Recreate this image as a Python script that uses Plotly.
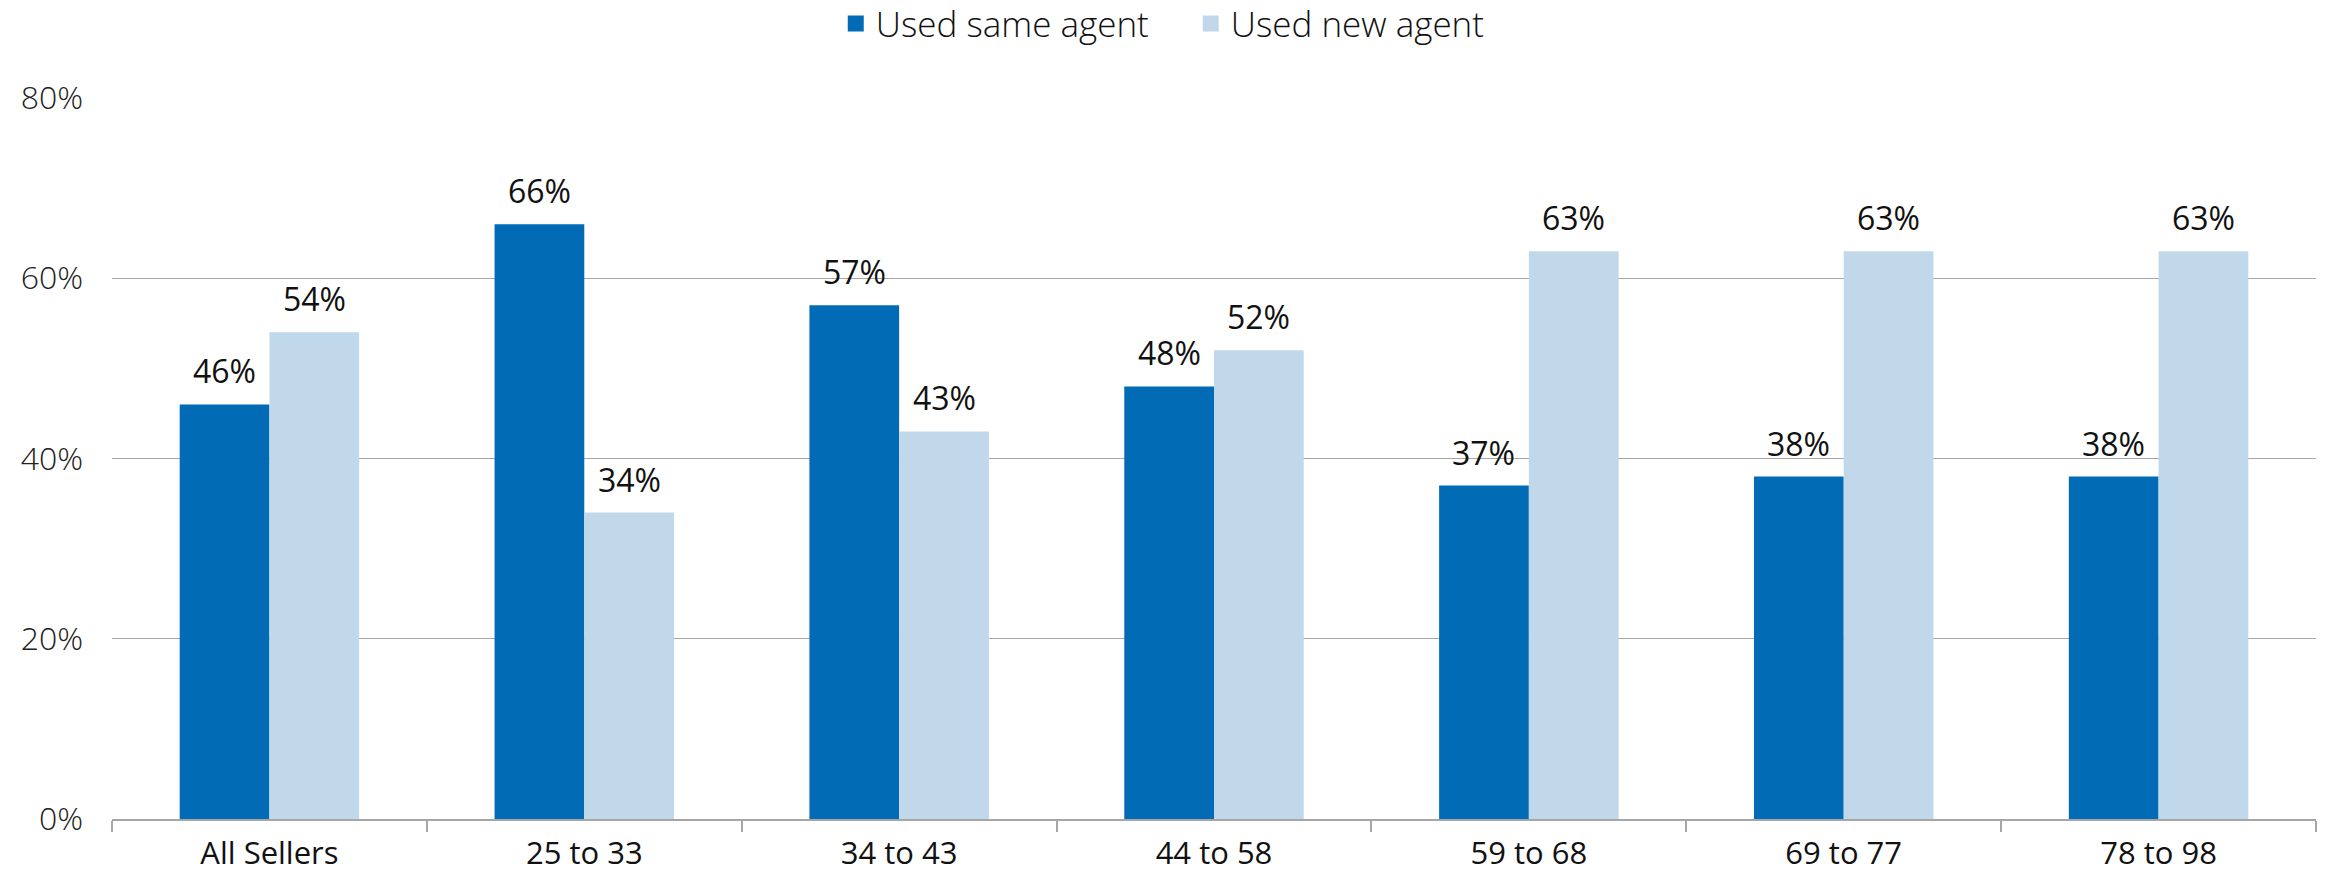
import plotly.graph_objects as go

# Seller age groups and share of sellers by agent choice (%)
categories = ["All Sellers", "25 to 33", "34 to 43", "44 to 58", "59 to 68", "69 to 77", "78 to 98"]
used_same_agent = [46, 66, 57, 48, 37, 38, 38]
used_new_agent = [54, 34, 43, 52, 63, 63, 63]
y_ticks = [0, 20, 40, 60, 80]
y_tick_labels = ["0%", "20%", "40%", "60%", "80%"]

DARK = "#016bb6"
LIGHT = "#c1d7ea"
GRID = "#a6a6a6"
FONT = "Open Sans"

fig = go.Figure()
fig.add_trace(go.Bar(name="Used same agent", x=categories, y=used_same_agent,
                     marker=dict(color=DARK, line=dict(width=0)), showlegend=False))
fig.add_trace(go.Bar(name="Used new agent", x=categories, y=used_new_agent,
                     marker=dict(color=LIGHT, line=dict(width=0)), showlegend=False))

# Legend entries with larger square swatches
for name, color in (("Used same agent", DARK), ("Used new agent", LIGHT)):
    fig.add_trace(go.Scatter(name=name, x=[None], y=[None], mode="markers",
                             marker=dict(symbol="square", size=18, color=color)))

BARGAP = 0.43
half = (1 - BARGAP) / 4  # offset of each bar centre from the category centre

annotations = []
for i in range(len(categories)):
    for val, off in ((used_same_agent[i], -half), (used_new_agent[i], half)):
        annotations.append(dict(
            x=i + off, y=val, xref="x", yref="y", text=f"{val}%",
            showarrow=False, yanchor="bottom", yshift=10,
            font=dict(family=FONT, size=32, color="#111111"),
        ))

fig.update_layout(
    width=2328, height=876,
    margin=dict(l=112, r=12, t=98, b=57),
    paper_bgcolor="white", plot_bgcolor="white",
    barmode="group", bargap=BARGAP, bargroupgap=0,
    font=dict(family=FONT, color="#111111"),
    legend=dict(orientation="h", x=0.359, xanchor="left", xref="container",
                y=0.973, yref="container", yanchor="middle",
                entrywidth=310, entrywidthmode="pixels",
                font=dict(family=FONT, size=35, weight=300, color="#111111"),
                itemwidth=30, traceorder="normal", tracegroupgap=0),
    annotations=annotations,
    xaxis=dict(
        showline=True, linecolor=GRID, linewidth=1.5,
        ticks="outside", tickson="boundaries", ticklen=11, tickcolor=GRID, tickwidth=1.5,
        tickfont=dict(family=FONT, size=31, weight=500, color="#111111"),
        ticklabelstandoff=6, automargin=False,
        showgrid=False,
    ),
    yaxis=dict(
        range=[0, 80], tickvals=y_ticks, ticktext=y_tick_labels,
        showgrid=True, gridcolor=GRID, gridwidth=1.3,
        zeroline=False, showline=False, automargin=False,
        tickfont=dict(family=FONT, size=32, weight=300, color="#222222"),
        ticklabelstandoff=28,
    ),
)

fig.write_html("out.html")
